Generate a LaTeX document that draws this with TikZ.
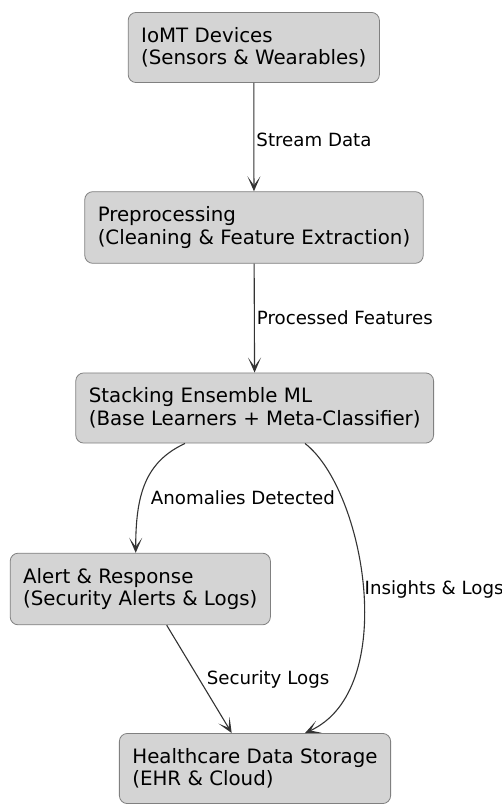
\documentclass[tikz,border=0pt]{standalone}
\usepackage{fontspec}
\setmainfont{DejaVu Sans}
\usetikzlibrary{arrows.meta}
\tikzset{
  mlstage/.style={rectangle, rounded corners=8pt, draw=black!50, fill=black!17,
                  line width=0.8pt, align=left, inner xsep=13pt, inner ysep=15pt,
                  font=\fontsize{19.8}{22.5}\selectfont},
  mlflow/.style={draw=black!80, line width=1.1pt,
                 -{Stealth[length=15pt, width=13pt, inset=9pt]}},
  mledgelab/.style={font=\fontsize{18.2}{21}\selectfont, inner sep=2pt},
}

\begin{document}
\begin{tikzpicture}[x=1pt, y=-1pt]
  \useasboundingbox (0,0) rectangle (502,805);
  \node[mlstage] (D) at (253.8,47.5) {IoMT Devices\\(Sensors \& Wearables)};
  \node[mlstage] (P) at (254,227.5) {Preprocessing\\(Cleaning \& Feature Extraction)};
  \node[mlstage] (S) at (254.7,408) {Stacking Ensemble ML\\(Base Learners + Meta-Classifier)};
  \node[mlstage] (A) at (140.3,589) {Alert \& Response\\(Security Alerts \& Logs)};
  \node[mlstage] (H) at (255,768.5) {Healthcare Data Storage\\(EHR \& Cloud)};
  \draw[mlflow] (D) -- node[mledgelab, right, pos=0.53]{Stream Data} (P);
  \draw[mlflow] (P) -- node[mledgelab, right]{Processed Features} (S);
  \draw[mlflow] ([xshift=-69.7pt]S.south) .. controls (145,462) and (135.7,495) ..
    node[mledgelab, right, pos=0.5, xshift=3pt, yshift=-14pt]{Anomalies Detected} ([xshift=-4.6pt]A.north);
  \draw[mlflow] ([xshift=50.3pt]S.south) .. controls (365,490) and (400,690) ..
    node[mledgelab, right, pos=0.5, inner sep=0pt, xshift=1pt]{Insights \& Logs} ([xshift=50pt]H.north);
  \draw[mlflow] ([xshift=26.4pt]A.south) -- node[mledgelab, right, pos=0.5, xshift=5pt]{Security Logs} ([xshift=-23.3pt]H.north);
\end{tikzpicture}
\end{document}
